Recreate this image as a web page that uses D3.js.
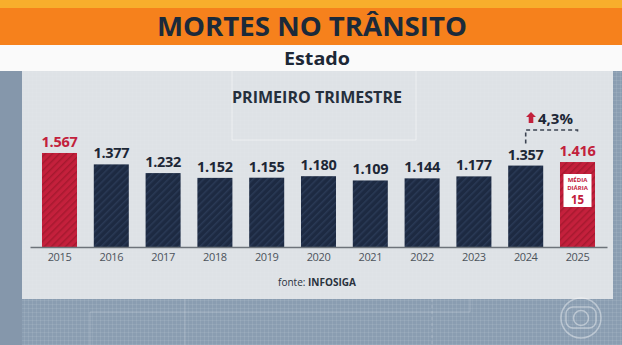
<!DOCTYPE html>
<html>
<head>
<meta charset="utf-8">
<script src="https://cdn.jsdelivr.net/npm/d3@7/dist/d3.min.js"></script>
<style>
  html, body { margin: 0; padding: 0; background: #8b9eb2; }
  svg { display: block; font-family: "Open Sans", "DejaVu Sans", sans-serif; }
</style>
</head>
<body>
<svg id="chart" width="622" height="345"></svg>
<script>
// Traffic deaths, first quarter of each year
const years = ["2015", "2016", "2017", "2018", "2019", "2020", "2021", "2022", "2023", "2024", "2025"];
const deaths = [1567, 1377, 1232, 1152, 1155, 1180, 1109, 1144, 1177, 1357, 1416];
const highlighted = ["2015", "2025"];
const changeLabel = "4,3%";
const dailyAverage = 15;

const W = 622, H = 345;
const svg = d3.select("#chart");
const defs = svg.append("defs");

// Brazilian number format: 1.567
const ptBR = d3.formatLocale({ decimal: ",", thousands: ".", grouping: [3], currency: ["R$", ""] });
const fmt = ptBR.format(",d");

// subtle screen grid texture
const grid = defs.append("pattern").attr("id", "grid")
  .attr("width", 4).attr("height", 4).attr("patternUnits", "userSpaceOnUse");
grid.append("path").attr("d", "M0,0.5H4M0.5,0V4")
  .attr("stroke", "#ffffff").attr("stroke-opacity", 0.08).attr("stroke-width", 1);

// diagonal hatching for bars
function hatch(id, base, stripe) {
  const p = defs.append("pattern").attr("id", id)
    .attr("width", 5).attr("height", 5)
    .attr("patternUnits", "userSpaceOnUse")
    .attr("patternTransform", "rotate(45)");
  p.append("rect").attr("width", 5).attr("height", 5).attr("fill", base);
  p.append("rect").attr("x", 0).attr("width", 1.5).attr("height", 5).attr("fill", stripe);
}
hatch("hatchNavy", "#1d2a42", "#2a3a56");
hatch("hatchRed", "#c4203c", "#a6192f");

// background
svg.append("rect").attr("width", W).attr("height", H).attr("fill", "#8a9db1");
svg.append("rect").attr("width", W).attr("height", H).attr("fill", "url(#grid)");
svg.append("rect").attr("x", 0).attr("y", 71).attr("width", 22).attr("height", H - 71).attr("fill", "#8597ab");

// faint decorative frame lines
const deco = svg.append("g").attr("stroke", "#ffffff").attr("stroke-opacity", 0.2).attr("fill", "none").attr("stroke-width", 1);
deco.append("path").attr("d", "M90,345V312H470V299");
deco.append("path").attr("d", "M185,299V345");
deco.append("path").attr("d", "M432,299V345").attr("stroke-dasharray", "3,3");

// header bands
svg.append("rect").attr("x", 0).attr("y", 0).attr("width", W).attr("height", 9).attr("fill", "#f8ae2c");
svg.append("rect").attr("x", 0).attr("y", 8).attr("width", W).attr("height", 37).attr("fill", "#f6811c");
svg.append("rect").attr("x", 0).attr("y", 45).attr("width", W).attr("height", 26).attr("fill", "#fafafa");

svg.append("text").attr("x", 312).attr("y", 36)
  .attr("text-anchor", "middle").attr("font-size", 27).attr("font-weight", 700)
  .attr("fill", "#1b2a3a").attr("textLength", 310).attr("lengthAdjust", "spacingAndGlyphs")
  .text("MORTES NO TRÂNSITO");
svg.append("text").attr("x", 317).attr("y", 65)
  .attr("text-anchor", "middle").attr("font-size", 18).attr("font-weight", 700)
  .attr("fill", "#1d2836").attr("textLength", 66).attr("lengthAdjust", "spacingAndGlyphs")
  .text("Estado");

// chart panel
svg.append("rect").attr("x", 22).attr("y", 71).attr("width", 591).attr("height", 228).attr("fill", "#dee2e6");
svg.append("rect").attr("x", 22).attr("y", 71).attr("width", 591).attr("height", 228).attr("fill", "url(#grid)").attr("opacity", 0.5);
svg.append("path").attr("d", "M232,71V140H416V71").attr("fill", "none")
  .attr("stroke", "#ffffff").attr("stroke-opacity", 0.45).attr("stroke-width", 1);

svg.append("text").attr("x", 317).attr("y", 103)
  .attr("text-anchor", "middle").attr("font-size", 16).attr("font-weight", 700)
  .attr("fill", "#252f3c").attr("textLength", 170).attr("lengthAdjust", "spacingAndGlyphs")
  .text("PRIMEIRO TRIMESTRE");

// scales
const x = d3.scaleBand().domain(years).range([30, 607]).paddingInner(0.324).paddingOuter(0.2315);
const y = d3.scaleLinear().domain([0, 1000]).range([247, 187]);

const data = years.map((yr, i) => ({ year: yr, value: deaths[i], hi: highlighted.includes(yr) }));

// bars
svg.append("g").selectAll("rect").data(data).join("rect")
  .attr("x", d => x(d.year))
  .attr("y", d => y(d.value))
  .attr("width", x.bandwidth())
  .attr("height", d => y(0) - y(d.value))
  .attr("fill", d => d.hi ? "url(#hatchRed)" : "url(#hatchNavy)");

// value labels
svg.append("g").selectAll("text").data(data).join("text")
  .attr("x", d => x(d.year) + x.bandwidth() / 2)
  .attr("y", d => y(d.value) - 6)
  .attr("text-anchor", "middle").attr("font-size", 14.5).attr("font-weight", 700)
  .attr("letter-spacing", -0.3)
  .attr("fill", d => d.hi ? "#c2213c" : "#1d2736")
  .text(d => fmt(d.value));

// x axis
const axis = svg.append("g").attr("transform", `translate(0,${y(0)})`)
  .call(d3.axisBottom(x).tickSize(0).tickSizeOuter(0).tickPadding(6));
axis.select(".domain").attr("stroke", "#6d737a").attr("stroke-width", 1.5);
axis.selectAll(".tick text")
  .attr("font-family", "'Open Sans', sans-serif")
  .attr("font-size", 11).attr("fill", "#4c535b").attr("letter-spacing", -0.4);

// change annotation between the last two years
const cPrev = x(years[9]) + x.bandwidth() / 2;
const cLast = x(years[10]) + x.bandwidth() / 2;
const bracketY = 130;
svg.append("path")
  .attr("d", `M${cPrev},${y(deaths[9]) - 22}V${bracketY}H${cLast}V${y(deaths[10]) - 28}`)
  .attr("fill", "none").attr("stroke", "#3c4452").attr("stroke-width", 1.6)
  .attr("stroke-dasharray", "4,3");

const ax = 531, ay = 112;
svg.append("path")
  .attr("d", `M${ax},${ay}L${ax + 5},${ay + 5}H${ax + 2.3}V${ay + 11}H${ax - 2.3}V${ay + 5}H${ax - 5}Z`)
  .attr("fill", "#c2213c");
svg.append("text").attr("x", 538).attr("y", 124)
  .attr("font-size", 15).attr("font-weight", 700).attr("fill", "#1d2736")
  .text(changeLabel);

// daily average box inside the last bar
const bx = x(years[10]) + 3.5, bw = x.bandwidth() - 7;
svg.append("rect").attr("x", bx).attr("y", 174).attr("width", bw).attr("height", 33).attr("fill", "#ffffff");
const boxText = svg.append("g").attr("fill", "#c2213c").attr("font-weight", 700).attr("text-anchor", "middle");
boxText.append("text").attr("x", cLast).attr("y", 181.5).attr("font-size", 6).text("MÉDIA");
boxText.append("text").attr("x", cLast).attr("y", 190).attr("font-size", 6).text("DIÁRIA");
boxText.append("text").attr("x", cLast).attr("y", 204).attr("font-size", 11.5).text(dailyAverage);

// source
const src = svg.append("text").attr("x", 317).attr("y", 286).attr("text-anchor", "middle")
  .attr("font-size", 10).attr("fill", "#2a323d");
src.append("tspan").text("fonte: ");
src.append("tspan").attr("font-weight", 700).text("INFOSIGA");

// broadcaster mark
const logo = svg.append("g").attr("fill", "none").attr("stroke", "#ffffff").attr("stroke-opacity", 0.4).attr("stroke-width", 1.5);
logo.append("circle").attr("cx", 581).attr("cy", 318).attr("r", 20);
logo.append("rect").attr("x", 566).attr("y", 307).attr("width", 30).attr("height", 21).attr("rx", 7);
logo.append("circle").attr("cx", 581).attr("cy", 318).attr("r", 7.5);
</script>
</body>
</html>
